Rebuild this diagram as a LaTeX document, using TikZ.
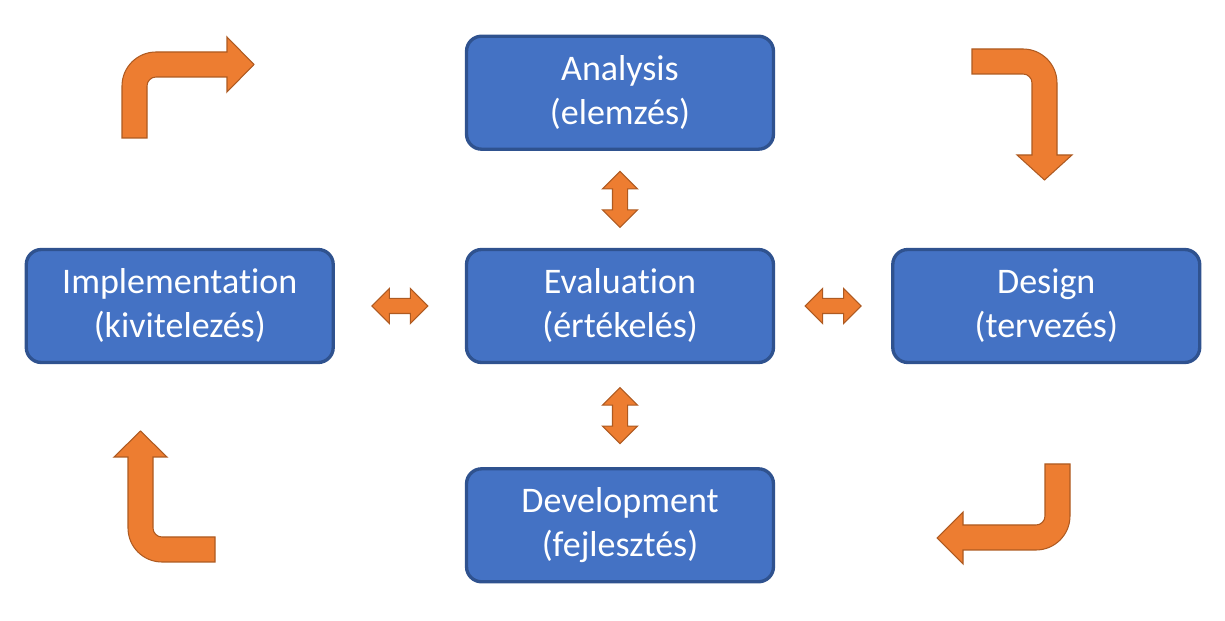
\documentclass[tikz,border=0pt]{standalone}
\usepackage{fontspec}
\setmainfont[Ligatures=NoCommon]{Carlito}
\usetikzlibrary{positioning,shapes.arrows,calc}
\definecolor{boxblue}{HTML}{4472C4}
\definecolor{boxedge}{HTML}{2F528F}
\definecolor{arrorange}{HTML}{ED7D31}
\definecolor{arredge}{HTML}{AE5A21}
\tikzstyle{phase} = [rectangle, draw=boxedge, line width=1.9pt, fill=boxblue,
    text=white, align=center, rounded corners=0.3cm, minimum width=6.14cm,
    minimum height=2.26cm, text depth=0.12cm, font=\fontsize{20.5}{25}\selectfont]
\tikzstyle{swap} = [double arrow, draw=arredge, fill=arrorange, line width=0.6pt,
    inner sep=0.14cm, double arrow head extend=0.2cm, minimum height=1.12cm]
\tikzstyle{turn} = [draw=arredge, fill=arrorange, line width=0.6pt, line join=miter]

\begin{document}
\begin{tikzpicture}[x=0.02cm,y=-0.02cm]
  \useasboundingbox (0,0) rectangle (1225,621);

  \node[phase] (eval)                        at (620,306) {Evaluation\\(értékelés)};
  \node[phase] (ana)  [above=1.94cm of eval] {Analysis\\(elemzés)};
  \node[phase] (dev)  [below=2.06cm of eval] {Development\\(fejlesztés)};
  \node[phase] (impl) [left=2.6cm of eval]   {Implementation\\(kivitelezés)};
  \node[phase] (des)  [right=2.32cm of eval] {Design\\(tervezés)};

  % two-way arrows round the middle
  \node[swap,rotate=90] (ae) at ($(ana.south)!0.5!(eval.north)$) {};
  \node[swap,rotate=90] (ed) at ($(eval.south)!0.5!(dev.north)$) {};
  \node[swap] (ie) at ($(impl.east)!0.5!(eval.west)$) {};
  \node[swap] (es) at ($(eval.east)!0.5!(des.west)$) {};

  % bent arrows of the cycle
  \draw[turn] (122,138) -- (122,86) arc (180:270:34) -- (227,52) -- (227,37)
    -- (254,64.5) -- (227,92) -- (227,77) -- (156,77) arc (270:180:9)
    -- (147,138) -- cycle;
  \draw[turn] (972,49) -- (1023,49) arc (270:360:34) -- (1057,155) -- (1072,155)
    -- (1044.5,180) -- (1017,155) -- (1032,155) -- (1032,83) arc (0:-90:9)
    -- (972,74) -- cycle;
  \draw[turn] (1045,464) -- (1070,464) -- (1070,516) arc (0:90:34) -- (963,550)
    -- (963,564) -- (937,538) -- (963,512) -- (963,525) -- (1036,525)
    arc (90:0:9) -- cycle;
  \draw[turn] (215,562) -- (162,562) arc (90:180:34) -- (128,457) -- (114,457)
    -- (140.5,431) -- (167,457) -- (153,457) -- (153,528) arc (180:90:9)
    -- (215,537) -- cycle;
\end{tikzpicture}
\end{document}
